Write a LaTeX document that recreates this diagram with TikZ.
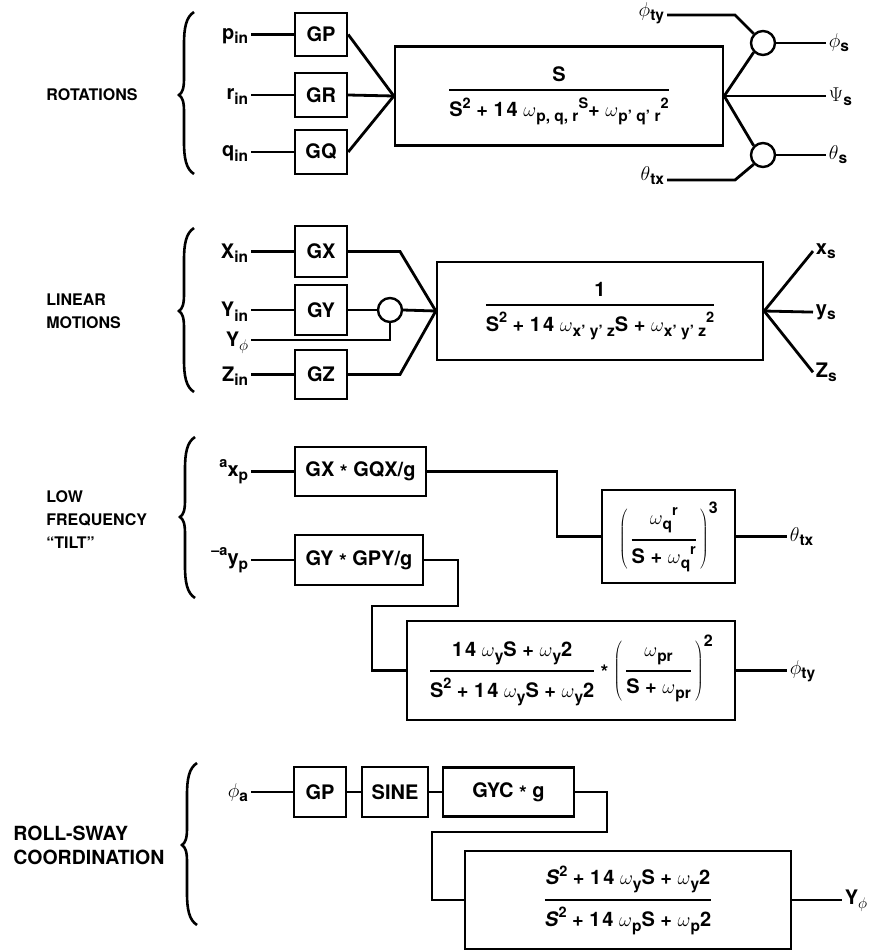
\RequirePackage{fix-cm}
\documentclass[tikz,border=0pt]{standalone}
\usepackage[no-math]{fontspec}
\setmainfont{TeX Gyre Heros}
\usetikzlibrary{calc}

% text helpers
\newcommand\sbs[1]{\raisebox{-0.45ex}{\fontsize{15.5}{15.5}\selectfont #1}}
\newcommand\sps[1]{\raisebox{0.8ex}{\fontsize{14.5}{14.5}\selectfont #1}}
\newcommand\Om{\ensuremath{\omega}}
\newcommand\Frac[2]{\ensuremath{\displaystyle{\hbox{#1}\above 2pt\hbox{#2}}}}
\newcommand\expo[1]{^{\hbox{\fontsize{16}{16}\selectfont #1}}}
\newcommand\mul{\raisebox{-0.3ex}{*}}
\newcommand\fourteen{1\kern2pt 4}
\newcommand\bx{\fontsize{20}{24}\selectfont\bfseries}
\newcommand\Paren[1]{\ensuremath{\left(\kern3pt #1\kern3pt\right)}}

% curly brace: #1 = x of the tip, #2 = top, #3 = tip y, #4 = bottom
\newcommand\Curly[4]{%
  \draw[line width=2.6pt] (#1+13,#2) .. controls (#1+5,#2+5) and (#1+3,#2+16) .. (#1+3,#2+32)
    -- (#1+3,#3-16) .. controls (#1+3,#3-6) and (#1+1,#3-2) .. (#1-2,#3)
    .. controls (#1+1,#3+2) and (#1+3,#3+6) .. (#1+3,#3+16)
    -- (#1+3,#4-32) .. controls (#1+3,#4-16) and (#1+5,#4-5) .. (#1+13,#4);}

\begin{document}
\begin{tikzpicture}[x=1pt,y=-1pt,line width=2.8pt,
  every node/.style={font=\bx},
  blk/.style 2 args={draw, line width=2.4pt, inner sep=0pt, minimum width=#1, minimum height=#2},
  sumc/.style={draw, circle, line width=2.4pt, inner sep=0pt, minimum size=24},
  lbl/.style={inner sep=1.5pt},
  ttl/.style={inner sep=0pt, align=left, font=\fontsize{16}{23}\selectfont\bfseries}]
\useasboundingbox (0,0) rectangle (877,951);

% ---------------- rotations ----------------
\node[ttl, anchor=west] (t-rot) at (45,95) {ROTATIONS};
\Curly{181}{12}{95}{174}
\node[blk={52}{43}] (gp) at (321,34.5) {GP};
\node[blk={52}{44}] (gr) at (321,95) {GR};
\node[blk={52}{44}] (gq) at (321,152) {GQ};
\node[lbl, anchor=base east] (pin) at (251,39) {p\sbs{in}};
\node[lbl, anchor=base east] (rin) at (251,99.5) {r\sbs{in}};
\node[lbl, anchor=base east] (qin) at (251,156.5) {q\sbs{in}};
\draw (pin.east |- gp.west) -- (gp.west);
\draw (rin.east |- gr.west) -- (gr.west);
\draw (qin.east |- gq.west) -- (gq.west);
\node[blk={328}{99}] (rot) at (559,96)
  {\Frac{S}{S\sps{2} + \fourteen\ \Om\sbs{p, q, r}\sps{S}+ \Om\sbs{p' q' r}\sps{2}}};
\draw (gp.east) -- (rot.west);
\draw (gr.east) -- (rot.west);
\draw (gq.east) -- (rot.west);
\node[sumc] (c1) at (763,43) {};
\node[sumc] (c2) at (763,155) {};
\node[lbl, anchor=base east] (phity) at (667,16) {$\phi$\sbs{ty}};
\node[lbl, anchor=base east] (thtx) at (667,180) {$\theta$\sbs{tx}};
\coordinate (k1) at (735,15);
\coordinate (k2) at (735,180);
\draw (phity.east |- k1) -- (k1) -- (c1.north west);
\draw (thtx.east |- k2) -- (k2) -- (c2.south west);
\draw (rot.east) -- (c1.south west);
\draw (rot.east) -- (c2.north west);
\node[lbl, anchor=base west] (phis) at (826,47) {$\phi$\sbs{s}};
\node[lbl, anchor=base west] (psis) at (826,101) {$\Psi$\sbs{s}};
\node[lbl, anchor=base west] (ths) at (826,159) {$\theta$\sbs{s}};
\draw (c1.east) -- (phis.west |- c1.east);
\draw (rot.east) -- (psis.west |- rot.east);
\draw (c2.east) -- (ths.west |- c2.east);

% ---------------- linear motions ----------------
\node[ttl, anchor=west] (t-lin) at (45,311) {LINEAR\\MOTIONS};
\Curly{181}{228}{311}{392}
\node[blk={52}{51}] (gx) at (321,251.5) {GX};
\node[blk={52}{50}] (gy) at (321,310) {GY};
\node[blk={52}{49}] (gz) at (321,374.5) {GZ};
\node[lbl, anchor=base east] (xin) at (251,258) {X\sbs{in}};
\node[lbl, anchor=base east] (yin) at (251,316.5) {Y\sbs{in}};
\node[lbl, anchor=base east] (yph) at (251,346) {Y\sbs{$\phi$}};
\node[lbl, anchor=base east] (zin) at (251,381) {Z\sbs{in}};
\draw (xin.east |- gx.west) -- (gx.west);
\draw (yin.east |- gy.west) -- (gy.west);
\draw (zin.east |- gz.west) -- (gz.west);
\node[blk={326}{98}] (lin) at (600,311)
  {\Frac{1}{S\sps{2} + \fourteen\ \Om\sbs{x' y' z}S + \Om\sbs{x' y' z}\sps{2}}};
\node[sumc] (c3) at (390,310) {};
\coordinate (k3) at (390,340);
\coordinate (k3a) at (400,251.5);
\coordinate (k3b) at (400,374.5);
\draw (gx.east) -- (k3a) -- (lin.west);
\draw (gy.east) -- (c3.west);
\draw (c3.east) -- (lin.west);
\draw (yph.east |- k3) -- (k3) -- (c3.south);
\draw (gz.east) -- (k3b) -- (lin.west);
\node[lbl, anchor=base west] (xs) at (813,254) {x\sbs{s}};
\node[lbl, anchor=base west] (ys) at (813,315) {y\sbs{s}};
\node[lbl, anchor=base west] (zs) at (813,377) {Z\sbs{s}};
\draw (lin.east) -- (xs.west);
\draw (lin.east) -- (ys.west);
\draw (lin.east) -- (zs.west);

% ---------------- low frequency tilt ----------------
\node[ttl, anchor=west] (t-tilt) at (45,520) {LOW\\FREQUENCY\\``TILT''};
\Curly{182}{437}{517}{598}
\node[blk={131}{49}] (gxq) at (360.5,471.5) {GX \mul\ GQX/g};
\node[blk={128}{50}] (gpy) at (359,560) {GY \mul\ GPY/g};
\node[lbl, anchor=base east] (axp) at (251,476) {\sps{a}x\sbs{p}};
\node[lbl, anchor=base east] (ayp) at (251,564.5) {\sps{--a}y\sbs{p}};
\draw (axp.east |- gxq.west) -- (gxq.west);
\draw (ayp.east |- gpy.west) -- (gpy.west);
\node[blk={133}{93}] (cube) at (668.5,536.5)
  {$\Paren{\Frac{\Om\sbs{q}\sps{r}}{S + \Om\sbs{q}\sps{r}}}\expo{3}$};
\coordinate (k4) at (557,500);
\draw (gxq.east) -| (k4) |- (cube.west);
\node[lbl, anchor=base west] (thtx2) at (787,541) {$\theta$\sbs{tx}};
\draw (cube.east) -- (thtx2.west |- cube.east);
\node[blk={328}{99}] (big) at (571,670.5)
  {\Frac{\fourteen\ \Om\sbs{y}S + \Om\sbs{y}2}{S\sps{2} + \fourteen\ \Om\sbs{y}S + \Om\sbs{y}2}\kern5pt
   \mul\kern5pt $\Paren{\Frac{\Om\sbs{pr}}{S + \Om\sbs{pr}}}\expo{2}$};
\coordinate (k6) at (458,606);
\coordinate (k7) at (372,606);
\draw (gpy.east) -| (k6) -- (k7) |- (big.west);
\node[lbl, anchor=base west] (phity2) at (787,674) {$\phi$\sbs{ty}};
\draw (big.east) -- (phity2.west |- big.east);

% ---------------- roll-sway coordination ----------------
\node[ttl, anchor=west, font=\fontsize{19.5}{24}\selectfont\bfseries] (t-rs) at (12,845) {ROLL-SWAY\\COORDINATION};
\Curly{184}{763}{845}{925}
\node[lbl, anchor=base east] (phia) at (251,797) {$\phi$\sbs{a}};
\node[blk={52}{50}] (gp2) at (320,792) {GP};
\node[blk={66}{50}] (sine) at (395,792) {SINE};
\node[blk={131}{49}] (gyc) at (508.5,792) {GYC \mul\ g};
\draw (phia.east |- gp2.west) -- (gp2.west);
\draw (gp2.east) -- (sine.west);
\draw (sine.east) -- (gyc.west);
\node[blk={326}{98}] (rs) at (628,900)
  {\Frac{\textit{S}\sps{2} + \fourteen\ \Om\sbs{y}S + \Om\sbs{y}2}{\textit{S}\sps{2} + \fourteen\ \Om\sbs{p}S + \Om\sbs{p}2}};
\coordinate (k8) at (607,832);
\coordinate (k9) at (432,832);
\draw (gyc.east) -| (k8) -- (k9) |- (rs.west);
\node[lbl, anchor=base west] (yph2) at (842,904) {Y\sbs{$\phi$}};
\draw (rs.east) -- (yph2.west |- rs.east);
\end{tikzpicture}
\end{document}
